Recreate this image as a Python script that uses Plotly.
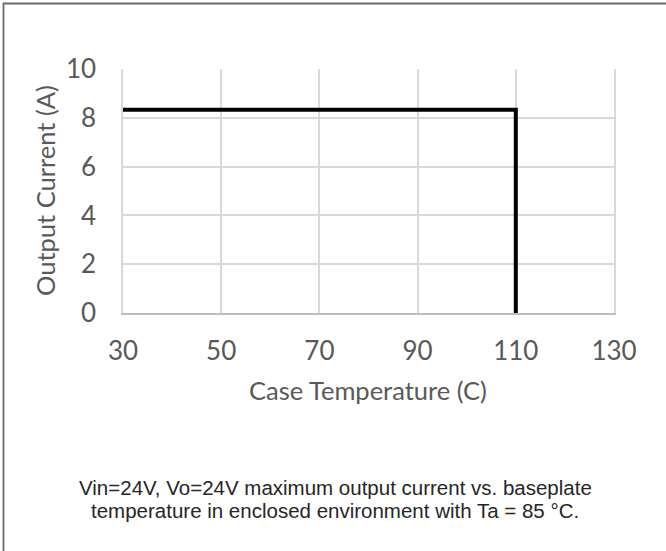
import plotly.graph_objects as go

# Data
case_temp = [30, 110, 110]
output_current = [8.33, 8.33, 0]
x_ticks = [30, 50, 70, 90, 110, 130]
y_ticks = [0, 2, 4, 6, 8, 10]
x_title = "Case Temperature (C)"
y_title = "Output Current (A)"
caption_lines = [
    "Vin=24V, Vo=24V maximum output current vs. baseplate",
    "temperature in enclosed environment with Ta = 85 °C.",
]

W, H = 666, 551
L, R, T, B = 123, 52, 69, 238
pw, ph = W - L - R, H - T - B

def px_to_paper_x(px):
    return (px - L) / pw

def px_to_paper_y(py):
    return (H - B - py) / ph

fig = go.Figure()
fig.add_trace(go.Scatter(
    x=case_temp, y=output_current, mode="lines",
    line=dict(color="black", width=4), showlegend=False, hoverinfo="skip",
))

tick_font = dict(family="Lato, 'Open Sans', sans-serif", size=26, color="#595959")
fig.update_xaxes(
    range=[30, 130], tickvals=x_ticks, showgrid=True, gridcolor="#d9d9d9", gridwidth=1.5,
    showline=True, linecolor="#bfbfbf", linewidth=2, zeroline=False,
    ticks="outside", ticklen=0, ticklabelstandoff=14, tickfont=tick_font,
)
fig.update_yaxes(
    range=[0, 10], tickvals=y_ticks, showgrid=True, gridcolor="#d9d9d9", gridwidth=1.5,
    showline=True, mirror=True, linecolor="#d9d9d9", linewidth=1.5, zeroline=False,
    ticks="outside", ticklen=0, ticklabelstandoff=20, tickfont=tick_font,
)

title_font = dict(family="Lato, 'Open Sans', sans-serif", size=25.5, color="#595959")
annotations = [
    dict(text=x_title, x=px_to_paper_x(368), y=px_to_paper_y(390), xref="paper", yref="paper",
         showarrow=False, xanchor="center", yanchor="middle", font=title_font),
    dict(text=y_title, x=px_to_paper_x(45), y=px_to_paper_y(191), xref="paper", yref="paper",
         showarrow=False, xanchor="center", yanchor="middle", textangle=-90, font=title_font),
]
cap_font = dict(family="'Liberation Sans', Arial, sans-serif", size=20.5, color="#262626")
for i, line in enumerate(caption_lines):
    annotations.append(dict(
        text=line, x=px_to_paper_x(335), y=px_to_paper_y(487 + 23 * i), xref="paper", yref="paper",
        showarrow=False, xanchor="center", yanchor="middle", font=cap_font,
    ))

fig.update_layout(
    width=W, height=H, margin=dict(l=L, r=R, t=T, b=B, autoexpand=False),
    paper_bgcolor="white", plot_bgcolor="white",
    annotations=annotations,
    shapes=[dict(type="rect", xref="paper", yref="paper",
                 x0=px_to_paper_x(3.5), x1=px_to_paper_x(W + 20),
                 y0=px_to_paper_y(H + 20), y1=px_to_paper_y(3.5),
                 line=dict(color="#6b6b6b", width=1.8), layer="above")],
)

fig.write_html(
    "out.html",
    config={"displayModeBar": False},
    post_script="document.body.style.margin='0';document.body.style.overflow='hidden';",
)
